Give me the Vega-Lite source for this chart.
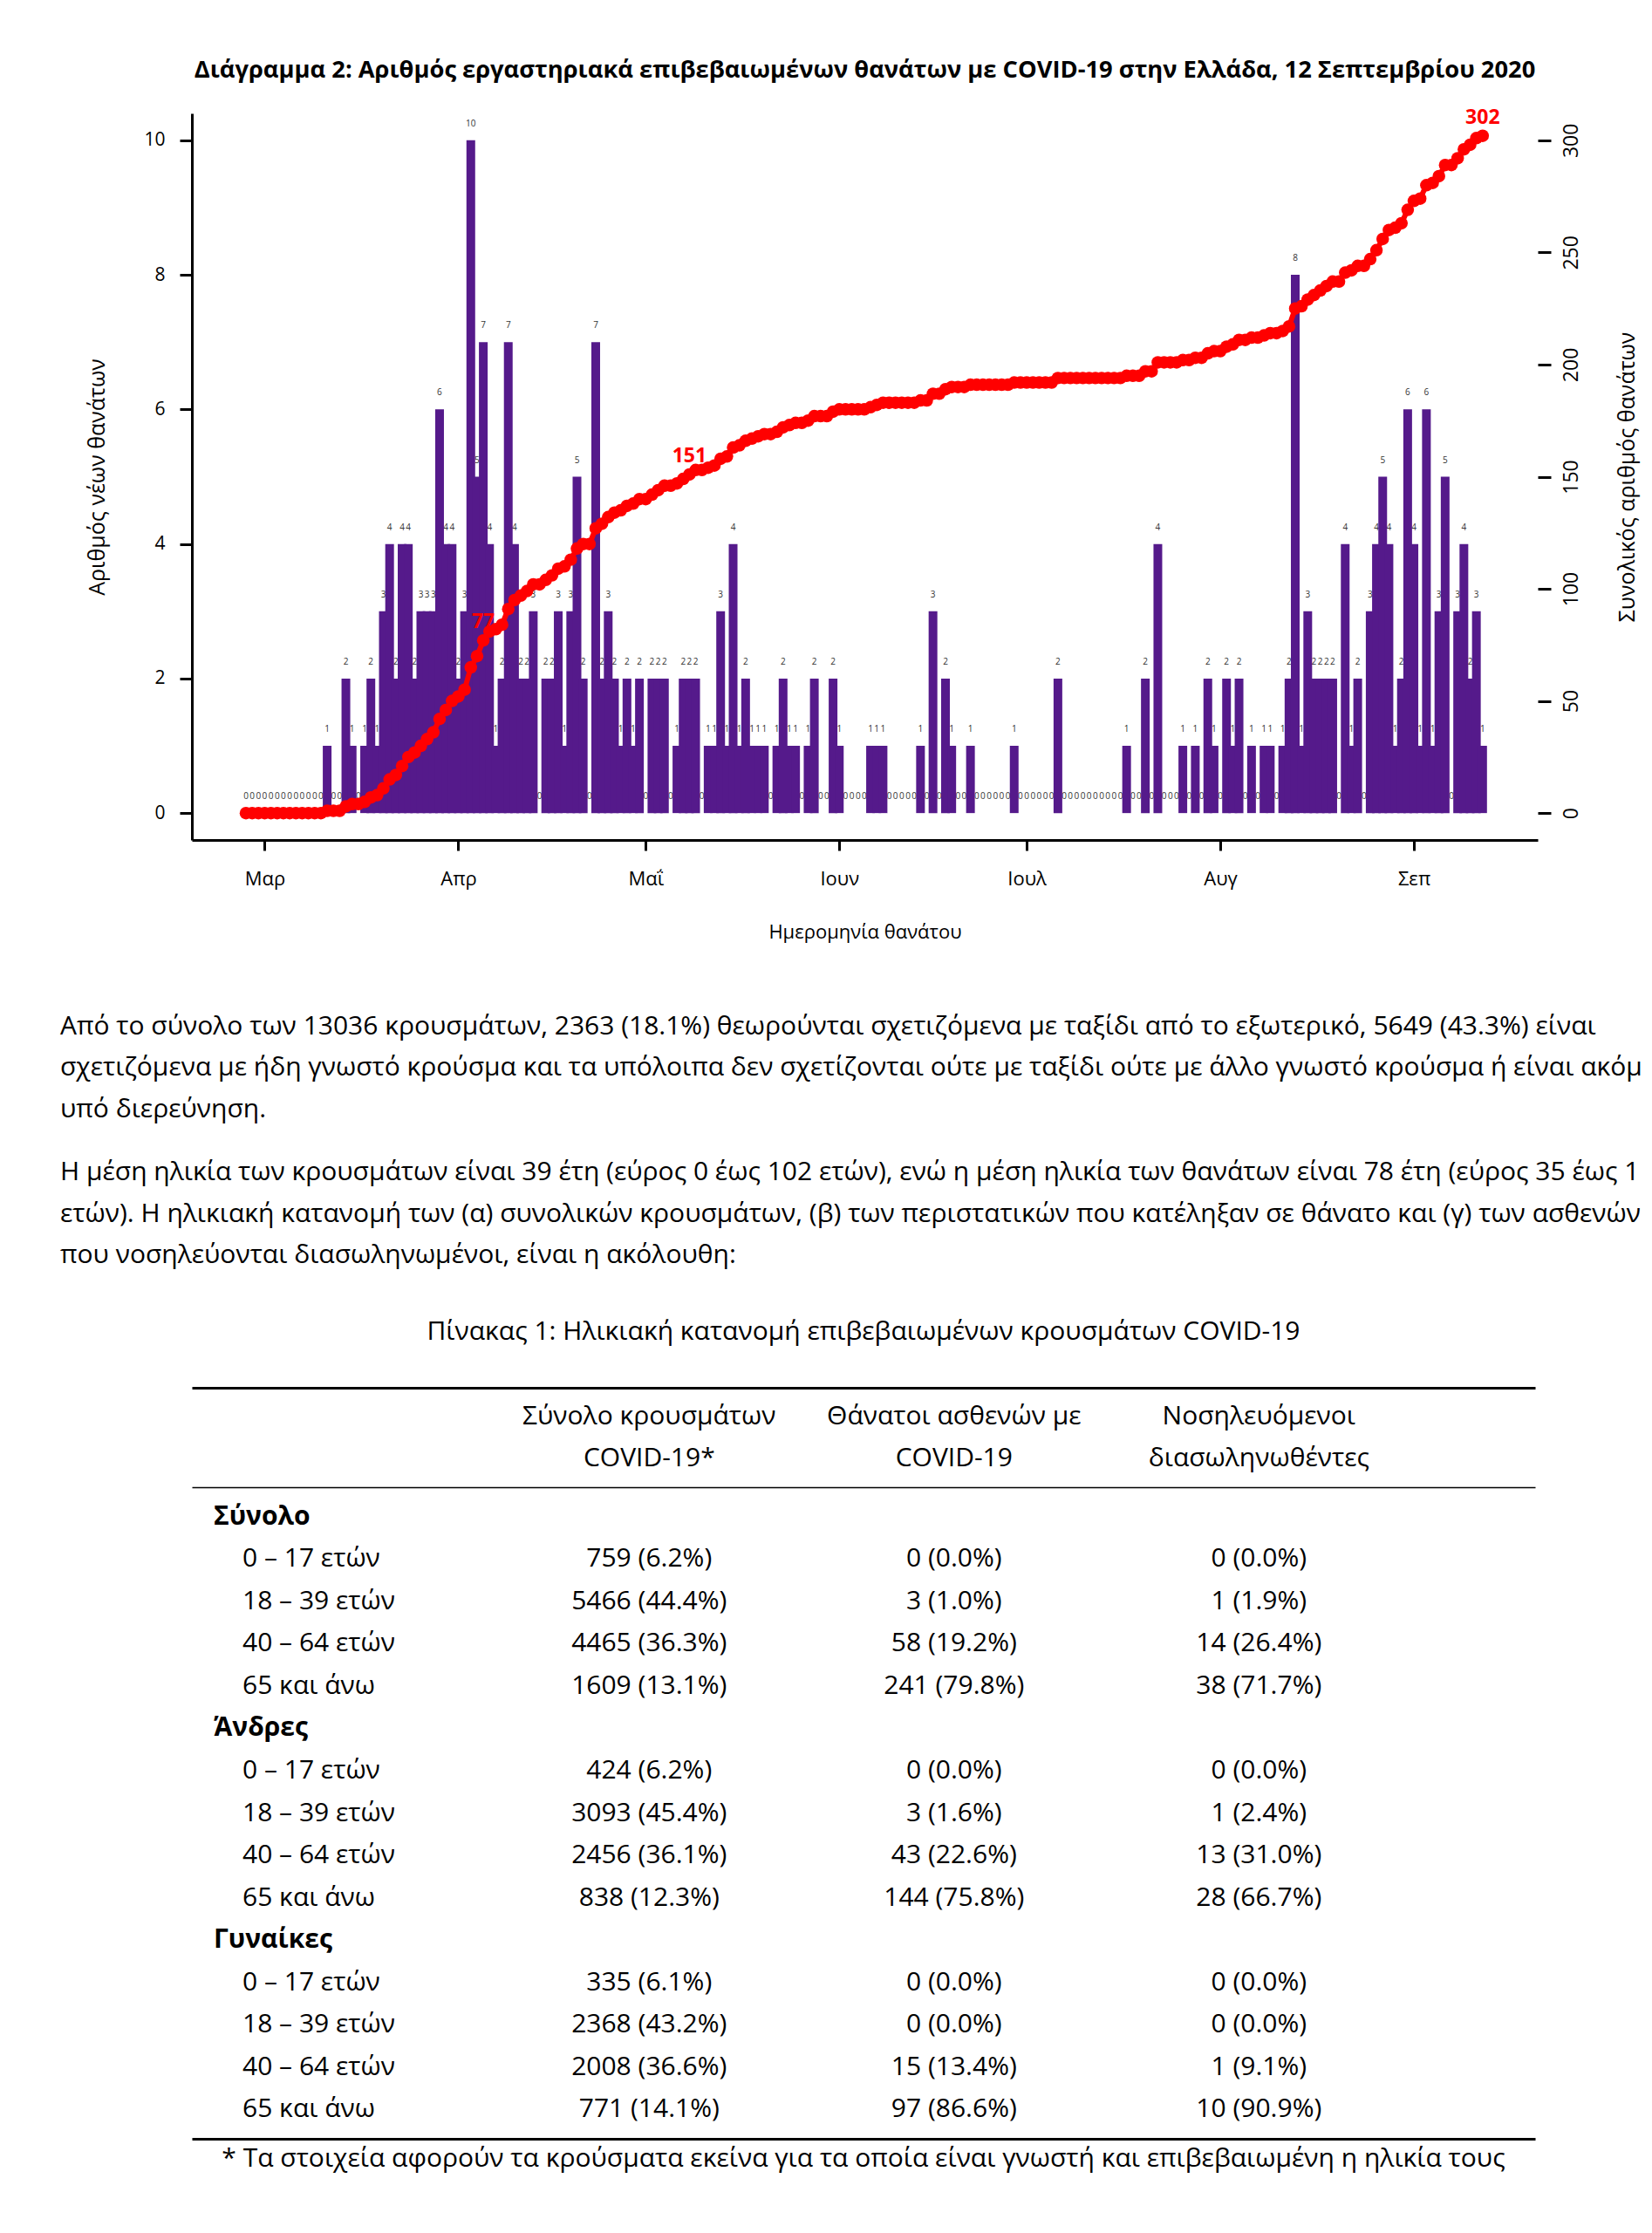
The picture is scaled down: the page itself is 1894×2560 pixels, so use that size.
{
"$schema": "https://vega.github.io/schema/vega-lite/v6.json",
"background": "white",
"padding": {"left": 69, "top": 67, "right": 0, "bottom": 10},
"config": {
  "view": {"stroke": null},
  "font": "Open Sans",
  "axis": {"domainColor": "black", "tickColor": "black", "labelColor": "black", "titleColor": "black", "grid": false, "labelFont": "Open Sans", "titleFont": "Open Sans", "titleFontWeight": "normal"},
  "text": {"font": "Open Sans", "color": "black"}
},
"datasets": {
"deaths": [
{"d":"2020-02-27","n":0,"c":0},{"d":"2020-02-28","n":0,"c":0},{"d":"2020-02-29","n":0,"c":0},
{"d":"2020-03-01","n":0,"c":0},{"d":"2020-03-02","n":0,"c":0},{"d":"2020-03-03","n":0,"c":0},{"d":"2020-03-04","n":0,"c":0},{"d":"2020-03-05","n":0,"c":0},
{"d":"2020-03-06","n":0,"c":0},{"d":"2020-03-07","n":0,"c":0},{"d":"2020-03-08","n":0,"c":0},{"d":"2020-03-09","n":0,"c":0},{"d":"2020-03-10","n":0,"c":0},
{"d":"2020-03-11","n":1,"c":1},{"d":"2020-03-12","n":0,"c":1},{"d":"2020-03-13","n":0,"c":1},{"d":"2020-03-14","n":2,"c":3},{"d":"2020-03-15","n":1,"c":4},
{"d":"2020-03-16","n":0,"c":4},{"d":"2020-03-17","n":1,"c":5},{"d":"2020-03-18","n":2,"c":7},{"d":"2020-03-19","n":1,"c":8},{"d":"2020-03-20","n":3,"c":11},
{"d":"2020-03-21","n":4,"c":15},{"d":"2020-03-22","n":2,"c":17},{"d":"2020-03-23","n":4,"c":21},{"d":"2020-03-24","n":4,"c":25},{"d":"2020-03-25","n":2,"c":27},
{"d":"2020-03-26","n":3,"c":30},{"d":"2020-03-27","n":3,"c":33},{"d":"2020-03-28","n":3,"c":36},{"d":"2020-03-29","n":6,"c":42},{"d":"2020-03-30","n":4,"c":46},
{"d":"2020-03-31","n":4,"c":50},
{"d":"2020-04-01","n":2,"c":52},{"d":"2020-04-02","n":3,"c":55},{"d":"2020-04-03","n":10,"c":65},{"d":"2020-04-04","n":5,"c":70},{"d":"2020-04-05","n":7,"c":77},
{"d":"2020-04-06","n":4,"c":81},{"d":"2020-04-07","n":1,"c":82},{"d":"2020-04-08","n":2,"c":84},{"d":"2020-04-09","n":7,"c":91},{"d":"2020-04-10","n":4,"c":95},
{"d":"2020-04-11","n":2,"c":97},{"d":"2020-04-12","n":2,"c":99},{"d":"2020-04-13","n":3,"c":102},{"d":"2020-04-14","n":0,"c":102},{"d":"2020-04-15","n":2,"c":104},
{"d":"2020-04-16","n":2,"c":106},{"d":"2020-04-17","n":3,"c":109},{"d":"2020-04-18","n":1,"c":110},{"d":"2020-04-19","n":3,"c":113},{"d":"2020-04-20","n":5,"c":118},
{"d":"2020-04-21","n":2,"c":120},{"d":"2020-04-22","n":0,"c":120},{"d":"2020-04-23","n":7,"c":127},{"d":"2020-04-24","n":2,"c":129},{"d":"2020-04-25","n":3,"c":132},
{"d":"2020-04-26","n":2,"c":134},{"d":"2020-04-27","n":1,"c":135},{"d":"2020-04-28","n":2,"c":137},{"d":"2020-04-29","n":1,"c":138},{"d":"2020-04-30","n":2,"c":140},
{"d":"2020-05-01","n":0,"c":140},{"d":"2020-05-02","n":2,"c":142},{"d":"2020-05-03","n":2,"c":144},{"d":"2020-05-04","n":2,"c":146},{"d":"2020-05-05","n":0,"c":146},
{"d":"2020-05-06","n":1,"c":147},{"d":"2020-05-07","n":2,"c":149},{"d":"2020-05-08","n":2,"c":151},{"d":"2020-05-09","n":2,"c":153},{"d":"2020-05-10","n":0,"c":153},
{"d":"2020-05-11","n":1,"c":154},{"d":"2020-05-12","n":1,"c":155},{"d":"2020-05-13","n":3,"c":158},{"d":"2020-05-14","n":1,"c":159},{"d":"2020-05-15","n":4,"c":163},
{"d":"2020-05-16","n":1,"c":164},{"d":"2020-05-17","n":2,"c":166},{"d":"2020-05-18","n":1,"c":167},{"d":"2020-05-19","n":1,"c":168},{"d":"2020-05-20","n":1,"c":169},
{"d":"2020-05-21","n":0,"c":169},{"d":"2020-05-22","n":1,"c":170},{"d":"2020-05-23","n":2,"c":172},{"d":"2020-05-24","n":1,"c":173},{"d":"2020-05-25","n":1,"c":174},
{"d":"2020-05-26","n":0,"c":174},{"d":"2020-05-27","n":1,"c":175},{"d":"2020-05-28","n":2,"c":177},{"d":"2020-05-29","n":0,"c":177},{"d":"2020-05-30","n":0,"c":177},
{"d":"2020-05-31","n":2,"c":179},
{"d":"2020-06-01","n":1,"c":180},{"d":"2020-06-02","n":0,"c":180},{"d":"2020-06-03","n":0,"c":180},{"d":"2020-06-04","n":0,"c":180},{"d":"2020-06-05","n":0,"c":180},
{"d":"2020-06-06","n":1,"c":181},{"d":"2020-06-07","n":1,"c":182},{"d":"2020-06-08","n":1,"c":183},{"d":"2020-06-09","n":0,"c":183},{"d":"2020-06-10","n":0,"c":183},
{"d":"2020-06-11","n":0,"c":183},{"d":"2020-06-12","n":0,"c":183},{"d":"2020-06-13","n":0,"c":183},{"d":"2020-06-14","n":1,"c":184},{"d":"2020-06-15","n":0,"c":184},
{"d":"2020-06-16","n":3,"c":187},{"d":"2020-06-17","n":0,"c":187},{"d":"2020-06-18","n":2,"c":189},{"d":"2020-06-19","n":1,"c":190},{"d":"2020-06-20","n":0,"c":190},
{"d":"2020-06-21","n":0,"c":190},{"d":"2020-06-22","n":1,"c":191},{"d":"2020-06-23","n":0,"c":191},{"d":"2020-06-24","n":0,"c":191},{"d":"2020-06-25","n":0,"c":191},
{"d":"2020-06-26","n":0,"c":191},{"d":"2020-06-27","n":0,"c":191},{"d":"2020-06-28","n":0,"c":191},{"d":"2020-06-29","n":1,"c":192},{"d":"2020-06-30","n":0,"c":192},
{"d":"2020-07-01","n":0,"c":192},{"d":"2020-07-02","n":0,"c":192},{"d":"2020-07-03","n":0,"c":192},{"d":"2020-07-04","n":0,"c":192},{"d":"2020-07-05","n":0,"c":192},
{"d":"2020-07-06","n":2,"c":194},{"d":"2020-07-07","n":0,"c":194},{"d":"2020-07-08","n":0,"c":194},{"d":"2020-07-09","n":0,"c":194},{"d":"2020-07-10","n":0,"c":194},
{"d":"2020-07-11","n":0,"c":194},{"d":"2020-07-12","n":0,"c":194},{"d":"2020-07-13","n":0,"c":194},{"d":"2020-07-14","n":0,"c":194},{"d":"2020-07-15","n":0,"c":194},
{"d":"2020-07-16","n":0,"c":194},{"d":"2020-07-17","n":1,"c":195},{"d":"2020-07-18","n":0,"c":195},{"d":"2020-07-19","n":0,"c":195},{"d":"2020-07-20","n":2,"c":197},
{"d":"2020-07-21","n":0,"c":197},{"d":"2020-07-22","n":4,"c":201},{"d":"2020-07-23","n":0,"c":201},{"d":"2020-07-24","n":0,"c":201},{"d":"2020-07-25","n":0,"c":201},
{"d":"2020-07-26","n":1,"c":202},{"d":"2020-07-27","n":0,"c":202},{"d":"2020-07-28","n":1,"c":203},{"d":"2020-07-29","n":0,"c":203},{"d":"2020-07-30","n":2,"c":205},
{"d":"2020-07-31","n":1,"c":206},
{"d":"2020-08-01","n":0,"c":206},{"d":"2020-08-02","n":2,"c":208},{"d":"2020-08-03","n":1,"c":209},{"d":"2020-08-04","n":2,"c":211},{"d":"2020-08-05","n":0,"c":211},
{"d":"2020-08-06","n":1,"c":212},{"d":"2020-08-07","n":0,"c":212},{"d":"2020-08-08","n":1,"c":213},{"d":"2020-08-09","n":1,"c":214},{"d":"2020-08-10","n":0,"c":214},
{"d":"2020-08-11","n":1,"c":215},{"d":"2020-08-12","n":2,"c":217},{"d":"2020-08-13","n":8,"c":225},{"d":"2020-08-14","n":1,"c":226},{"d":"2020-08-15","n":3,"c":229},
{"d":"2020-08-16","n":2,"c":231},{"d":"2020-08-17","n":2,"c":233},{"d":"2020-08-18","n":2,"c":235},{"d":"2020-08-19","n":2,"c":237},{"d":"2020-08-20","n":0,"c":237},
{"d":"2020-08-21","n":4,"c":241},{"d":"2020-08-22","n":1,"c":242},{"d":"2020-08-23","n":2,"c":244},{"d":"2020-08-24","n":0,"c":244},{"d":"2020-08-25","n":3,"c":247},
{"d":"2020-08-26","n":4,"c":251},{"d":"2020-08-27","n":5,"c":256},{"d":"2020-08-28","n":4,"c":260},{"d":"2020-08-29","n":1,"c":261},{"d":"2020-08-30","n":2,"c":263},
{"d":"2020-08-31","n":6,"c":269},
{"d":"2020-09-01","n":4,"c":273},{"d":"2020-09-02","n":1,"c":274},{"d":"2020-09-03","n":6,"c":280},{"d":"2020-09-04","n":1,"c":281},{"d":"2020-09-05","n":3,"c":284},
{"d":"2020-09-06","n":5,"c":289},{"d":"2020-09-07","n":0,"c":289},{"d":"2020-09-08","n":3,"c":292},{"d":"2020-09-09","n":4,"c":296},{"d":"2020-09-10","n":2,"c":298},
{"d":"2020-09-11","n":3,"c":301},{"d":"2020-09-12","n":1,"c":302}
],
"table": [
{"line":1,"group":"Σύνολο"},
{"line":2,"age":"0 – 17 ετών","cases":"759 (6.2%)","deaths":"0 (0.0%)","icu":"0 (0.0%)"},
{"line":3,"age":"18 – 39 ετών","cases":"5466 (44.4%)","deaths":"3 (1.0%)","icu":"1 (1.9%)"},
{"line":4,"age":"40 – 64 ετών","cases":"4465 (36.3%)","deaths":"58 (19.2%)","icu":"14 (26.4%)"},
{"line":5,"age":"65 και άνω","cases":"1609 (13.1%)","deaths":"241 (79.8%)","icu":"38 (71.7%)"},
{"line":6,"group":"Άνδρες"},
{"line":7,"age":"0 – 17 ετών","cases":"424 (6.2%)","deaths":"0 (0.0%)","icu":"0 (0.0%)"},
{"line":8,"age":"18 – 39 ετών","cases":"3093 (45.4%)","deaths":"3 (1.6%)","icu":"1 (2.4%)"},
{"line":9,"age":"40 – 64 ετών","cases":"2456 (36.1%)","deaths":"43 (22.6%)","icu":"13 (31.0%)"},
{"line":10,"age":"65 και άνω","cases":"838 (12.3%)","deaths":"144 (75.8%)","icu":"28 (66.7%)"},
{"line":11,"group":"Γυναίκες"},
{"line":12,"age":"0 – 17 ετών","cases":"335 (6.1%)","deaths":"0 (0.0%)","icu":"0 (0.0%)"},
{"line":13,"age":"18 – 39 ετών","cases":"2368 (43.2%)","deaths":"0 (0.0%)","icu":"0 (0.0%)"},
{"line":14,"age":"40 – 64 ετών","cases":"2008 (36.6%)","deaths":"15 (13.4%)","icu":"1 (9.1%)"},
{"line":15,"age":"65 και άνω","cases":"771 (14.1%)","deaths":"97 (86.6%)","icu":"10 (90.9%)"}
]
},
"vconcat": [
{
  "width": 1543, "height": 833,
  "title": {"text": "Διάγραμμα 2: Αριθμός εργαστηριακά επιβεβαιωμένων θανάτων με COVID-19 στην Ελλάδα, 12 Σεπτεμβρίου 2020", "fontSize": 27.3, "fontWeight": "bold", "font": "Open Sans", "color": "black", "anchor": "middle", "baseline": "alphabetic", "offset": 7},
  "data": {"name": "deaths"},
  "encoding": {
    "x": {"field": "d", "type": "temporal",
      "scale": {"type": "utc", "domain": [{"year": 2020, "month": 2, "date": 19, "hours": 1, "utc": true}, {"year": 2020, "month": 9, "date": 20, "hours": 3, "utc": true}]},
      "axis": {"values": [{"year": 2020, "month": 3, "date": 1, "utc": true}, {"year": 2020, "month": 4, "date": 1, "utc": true}, {"year": 2020, "month": 5, "date": 1, "utc": true}, {"year": 2020, "month": 6, "date": 1, "utc": true}, {"year": 2020, "month": 7, "date": 1, "utc": true}, {"year": 2020, "month": 8, "date": 1, "utc": true}, {"year": 2020, "month": 9, "date": 1, "utc": true}],
        "labelExpr": "['Ιαν','Φεβ','Μαρ','Απρ','Μαΐ','Ιουν','Ιουλ','Αυγ','Σεπ','Οκτ','Νοε','Δεκ'][utcmonth(datum.value)]",
        "labelFlush": false, "labelFontSize": 22, "labelPadding": 22, "tickSize": 12, "tickWidth": 3, "domainWidth": 3,
        "title": "Ημερομηνία θανάτου", "titleFontSize": 22, "titlePadding": 40}
    }
  },
  "layer": [
    {
      "encoding": {"y": {"field": "n", "type": "quantitative", "scale": {"domain": [-0.4, 10.4], "nice": false, "zero": false},
        "axis": {"orient": "left", "values": [0, 2, 4, 6, 8, 10], "labelFontSize": 21, "labelPadding": 17, "tickSize": 14, "tickWidth": 3, "domainWidth": 3, "title": "Αριθμός νέων θανάτων", "titleFontSize": 25, "titlePadding": 40}}},
      "layer": [
        {"mark": {"type": "text", "baseline": "middle", "dy": -19, "fontSize": 10, "color": "#333"}, "encoding": {"text": {"field": "n", "type": "quantitative"}}},
        {"mark": {"type": "bar", "color": "#551A8B", "width": 10}, "encoding": {"y2": {"datum": 0}}}
      ]
    },
    {
      "encoding": {"y": {"field": "c", "type": "quantitative", "scale": {"domain": [-12, 312], "nice": false, "zero": false},
        "axis": {"orient": "right", "values": [0, 50, 100, 150, 200, 250, 300], "labelAngle": 270, "labelAlign": "center", "labelBaseline": "top", "labelFontSize": 23, "labelPadding": 12, "tickSize": 15, "tickWidth": 3, "domain": false, "title": "Συνολικός αριθμός θανάτων", "titleAngle": 270, "titleBaseline": "top", "titleFontSize": 25, "titlePadding": 40}}},
      "layer": [
        {"mark": {"type": "line", "color": "#FF0000", "strokeWidth": 6}},
        {"mark": {"type": "circle", "color": "#FF0000", "size": 210, "opacity": 1}},
        {"transform": [{"filter": {"field": "c", "oneOf": [77, 151, 302]}}, {"filter": {"field": "n", "gt": 0}}],
         "mark": {"type": "text", "color": "#FF0000", "fontWeight": "bold", "fontSize": 23, "baseline": "middle", "dy": -21},
         "encoding": {"text": {"field": "c", "type": "quantitative"}}},
        {"data": {"values": [{"from": 0, "to": 300}]},
         "mark": {"type": "rule", "color": "black", "strokeWidth": 3},
         "encoding": {"x": {"datum": {"year": 2020, "month": 9, "date": 20, "hours": 3, "utc": true}, "type": "temporal"}, "y": {"field": "from", "type": "quantitative"}, "y2": {"field": "to"}}}
      ]
    }
  ],
  "resolve": {"scale": {"y": "independent"}}
},
{
  "width": 1543, "height": 332.5,
  "data": {"values": [
    {"line": 1, "text": "Από το σύνολο των 13036 κρουσμάτων, 2363 (18.1%) θεωρούνται σχετιζόμενα με ταξίδι από το εξωτερικό, 5649 (43.3%) είναι"},
    {"line": 2, "text": "σχετιζόμενα με ήδη γνωστό κρούσμα και τα υπόλοιπα δεν σχετίζονται ούτε με ταξίδι ούτε με άλλο γνωστό κρούσμα ή είναι ακόμη"},
    {"line": 3, "text": "υπό διερεύνηση."}
  ]},
  "mark": {"type": "text", "align": "left", "baseline": "middle", "fontSize": 30, "dx": -151, "limit": 1820, "ellipsis": "\u200b"},
  "encoding": {
    "x": {"datum": 0, "type": "quantitative", "scale": {"domain": [0, 1]}, "axis": null},
    "y": {"field": "line", "type": "quantitative", "axis": null, "scale": {"domain": [-3.5148, 3.5], "reverse": true, "nice": false, "zero": false}},
    "text": {"field": "text"}
  }
},
{
  "width": 1543, "height": 167,
  "data": {"values": [
    {"line": 1, "text": "Η μέση ηλικία των κρουσμάτων είναι 39 έτη (εύρος 0 έως 102 ετών), ενώ η μέση ηλικία των θανάτων είναι 78 έτη (εύρος 35 έως 10"},
    {"line": 2, "text": "ετών). Η ηλικιακή κατανομή των (α) συνολικών κρουσμάτων, (β) των περιστατικών που κατέληξαν σε θάνατο και (γ) των ασθενών"},
    {"line": 3, "text": "που νοσηλεύονται διασωληνωμένοι, είναι η ακόλουθη:"}
  ]},
  "mark": {"type": "text", "align": "left", "baseline": "middle", "fontSize": 30, "dx": -151, "limit": 1820, "ellipsis": "\u200b"},
  "encoding": {
    "x": {"datum": 0, "type": "quantitative", "scale": {"domain": [0, 1]}, "axis": null},
    "y": {"field": "line", "type": "ordinal", "axis": null, "scale": {"type": "band", "domain": [1, 2, 3], "paddingInner": 0, "paddingOuter": 0.2616, "align": 1}},
    "text": {"field": "text"}
  }
},
{
  "width": 1540, "height": 127.5,
  "data": {"values": [{"t": "Πίνακας 1: Ηλικιακή κατανομή επιβεβαιωμένων κρουσμάτων COVID-19"}]},
  "mark": {"type": "text", "align": "center", "baseline": "middle", "fontSize": 30},
  "encoding": {"text": {"field": "t"}}
},
{
  "width": 1540, "height": 114,
  "data": {"values": [
    {"col": "c1", "line": 1, "t": "Σύνολο κρουσμάτων"},
    {"col": "c1", "line": 2, "t": "COVID-19*"},
    {"col": "c2", "line": 1, "t": "Θάνατοι ασθενών με"},
    {"col": "c2", "line": 2, "t": "COVID-19"},
    {"col": "c3", "line": 1, "t": "Νοσηλευόμενοι"},
    {"col": "c3", "line": 2, "t": "διασωληνωθέντες"}
  ]},
  "mark": {"type": "text", "align": "center", "baseline": "middle", "fontSize": 30},
  "encoding": {
    "x": {"field": "col", "type": "nominal", "scale": {"type": "band", "domain": ["lab", "c1", "c2", "c3"], "paddingInner": 0, "paddingOuter": 0.203, "align": 0},
      "axis": {"orient": "top", "labels": false, "ticks": false, "title": null, "domain": true, "domainWidth": 3}},
    "y": {"field": "line", "type": "ordinal", "axis": null, "scale": {"type": "band", "domain": [1, 2], "paddingInner": 0, "paddingOuter": 0.1875, "align": 0.5}},
    "text": {"field": "t"}
  }
},
{
  "width": 1540, "height": 747,
  "data": {"name": "table"},
  "encoding": {"y": {"field": "line", "type": "ordinal", "axis": null, "scale": {"type": "band", "domain": [1, 2, 3, 4, 5, 6, 7, 8, 9, 10, 11, 12, 13, 14, 15], "paddingInner": 0, "paddingOuter": 0.19, "align": 0.5}}},
  "layer": [
    {"transform": [{"filter": "isValid(datum.group)"}],
     "mark": {"type": "text", "align": "left", "baseline": "middle", "fontSize": 30, "fontWeight": "bold"},
     "encoding": {"x": {"datum": "lab", "type": "nominal", "bandPosition": 0.0715, "scale": {"type": "band", "domain": ["lab", "c1", "c2", "c3"], "paddingInner": 0, "paddingOuter": 0.203, "align": 0}, "axis": {"orient": "top", "labels": false, "ticks": false, "title": null, "domain": true, "domainWidth": 1.6}}, "text": {"field": "group"}}},
    {"transform": [{"filter": "isValid(datum.age)"}],
     "mark": {"type": "text", "align": "left", "baseline": "middle", "fontSize": 30},
     "encoding": {"x": {"datum": "lab", "type": "nominal", "bandPosition": 0.166}, "text": {"field": "age"}}},
    {"transform": [{"filter": "isValid(datum.cases)"}],
     "mark": {"type": "text", "align": "center", "baseline": "middle", "fontSize": 30},
     "encoding": {"x": {"datum": "c1", "type": "nominal"}, "text": {"field": "cases"}}},
    {"transform": [{"filter": "isValid(datum.deaths)"}],
     "mark": {"type": "text", "align": "center", "baseline": "middle", "fontSize": 30},
     "encoding": {"x": {"datum": "c2", "type": "nominal"}, "text": {"field": "deaths"}}},
    {"transform": [{"filter": "isValid(datum.icu)"}],
     "mark": {"type": "text", "align": "center", "baseline": "middle", "fontSize": 30},
     "encoding": {"x": {"datum": "c3", "type": "nominal"}, "text": {"field": "icu"}}}
  ]
},
{
  "width": 1540, "height": 46,
  "data": {"values": [{"t": "* Τα στοιχεία αφορούν τα κρούσματα εκείνα για τα οποία είναι γνωστή και επιβεβαιωμένη η ηλικία τους"}]},
  "mark": {"type": "text", "align": "center", "baseline": "middle", "fontSize": 30},
  "encoding": {
    "x": {"datum": "note", "type": "nominal", "scale": {"type": "band", "paddingInner": 0, "paddingOuter": 0}, "axis": {"orient": "top", "labels": false, "ticks": false, "title": null, "domain": true, "domainWidth": 3}},
    "text": {"field": "t"}
  }
}
],
"spacing": 0,
"bounds": "flush"
}
